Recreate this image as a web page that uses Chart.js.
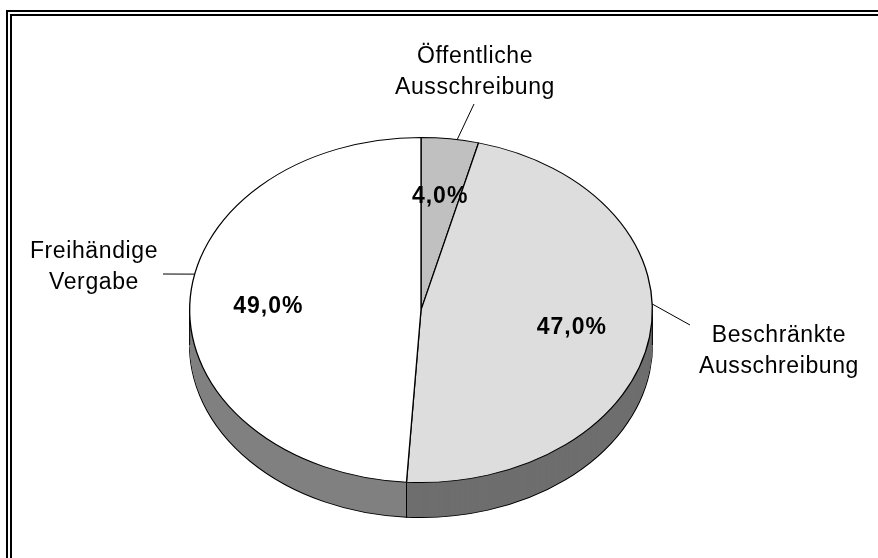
<!DOCTYPE html>
<html>
<head>
<meta charset="utf-8">
<script src="https://cdn.jsdelivr.net/npm/chart.js@4.4.0/dist/chart.umd.min.js"></script>
<style>
html, body { margin: 0; padding: 0; background: #fff; }
#vergabe-chart { display: block; }
</style>
</head>
<body>
<canvas id="vergabe-chart" width="878" height="558"></canvas>
<script>
// Daten
var kategorien = [['Öffentliche', 'Ausschreibung'], ['Beschränkte', 'Ausschreibung'], ['Freihändige', 'Vergabe']];
var anteile = [4, 47, 49];
var farben = ['#c0c0c0', '#dddddd', '#ffffff'];
var farbenSeite = ['#606060', '#6e6e6e', '#808080'];

// Layout der 3D-Torte
var neigung = 173 / 232;
var tiefe = 35;
var schrift = '23px "Liberation Sans", Arial, sans-serif';
var schriftFett = 'bold 23px "Liberation Sans", Arial, sans-serif';
// Beschriftungen: Textmitte, erste Grundlinie, Anfang der Linie, Winkel am Rand (Grad ab oben)
var beschriftung = [
    { x: 475, y: 63, linie: [474, 104], winkel: 9 },
    { x: 779, y: 342, linie: [690, 325], winkel: 88 },
    { x: 94, y: 258, linie: [163, 274], winkel: 282 }
];

document.addEventListener("DOMContentLoaded", function() {
    drawVergabeChart();
});

function kippen(ctx, arc, dy) {
    ctx.translate(0, dy);
    ctx.translate(arc.x, arc.y);
    ctx.scale(1, neigung);
    ctx.translate(-arc.x, -arc.y);
}

function zeichneStueck(ctx, arc, dy, optionen) {
    var alt = arc.options;
    arc.options = Object.assign({}, alt, optionen);
    ctx.save();
    kippen(ctx, arc, dy);
    arc.draw(ctx);
    ctx.restore();
    arc.options = alt;
}

function randPunkt(arc, grad) {
    var a = (grad - 90) * Math.PI / 180;
    return [arc.x + arc.outerRadius * Math.cos(a), arc.y + arc.outerRadius * neigung * Math.sin(a)];
}

var torte3d = {
    id: 'torte3d',
    beforeDraw: function(chart) {
        // doppelter Rahmen oben und links
        var ctx = chart.ctx;
        ctx.save();
        ctx.strokeStyle = '#000';
        ctx.lineWidth = 2;
        ctx.beginPath();
        ctx.moveTo(878, 11); ctx.lineTo(7, 11); ctx.lineTo(7, 558);
        ctx.moveTo(878, 15); ctx.lineTo(11, 15); ctx.lineTo(11, 558);
        ctx.stroke();
        ctx.restore();
    },
    beforeDatasetsDraw: function(chart) {
        var ctx = chart.ctx;
        var arcs = chart.getDatasetMeta(0).data;
        // Seitenwand
        arcs.forEach(function(arc, i) {
            zeichneStueck(ctx, arc, tiefe, { backgroundColor: farbenSeite[i], borderColor: '#000', borderWidth: 1.3 });
        });
        for (var dy = tiefe - 1; dy > 0; dy--) {
            arcs.forEach(function(arc, i) {
                zeichneStueck(ctx, arc, dy, { backgroundColor: farbenSeite[i], borderWidth: 0 });
            });
        }
        // senkrechte Kanten
        var a0 = arcs[0];
        ctx.save();
        ctx.strokeStyle = '#000';
        ctx.lineWidth = 1;
        ctx.beginPath();
        ctx.moveTo(a0.x - a0.outerRadius, a0.y);
        ctx.lineTo(a0.x - a0.outerRadius, a0.y + tiefe);
        ctx.moveTo(a0.x + a0.outerRadius, a0.y);
        ctx.lineTo(a0.x + a0.outerRadius, a0.y + tiefe);
        arcs.forEach(function(arc) {
            var a = arc.startAngle;
            if (Math.sin(a) > 0) {
                var x = Math.round(arc.x + arc.outerRadius * Math.cos(a)) + 0.5;
                var y = arc.y + arc.outerRadius * neigung * Math.sin(a);
                ctx.moveTo(x, y);
                ctx.lineTo(x, y + tiefe);
            }
        });
        ctx.stroke();
        ctx.restore();
        // Oberseite gekippt zeichnen
        ctx.save();
        kippen(ctx, a0, 0);
    },
    afterDatasetsDraw: function(chart) {
        var ctx = chart.ctx;
        ctx.restore();
        var arcs = chart.getDatasetMeta(0).data;
        var summe = anteile.reduce(function(s, v) { return s + v; }, 0);
        ctx.save();
        ctx.fillStyle = '#000';
        ctx.strokeStyle = '#000';
        ctx.lineWidth = 1;
        ctx.textAlign = 'center';
        arcs.forEach(function(arc, i) {
            // Prozentwerte
            var mitte = (arc.startAngle + arc.endAngle) / 2;
            var px = arc.x + arc.outerRadius * 0.66 * Math.cos(mitte);
            var py = arc.y + arc.outerRadius * 0.66 * neigung * Math.sin(mitte);
            ctx.font = schriftFett;
            ctx.letterSpacing = '1px';
            ctx.textBaseline = 'middle';
            ctx.fillText((anteile[i] / summe * 100).toFixed(1).replace('.', ',') + '%', px, py);
            // Kategorien
            var b = beschriftung[i];
            ctx.font = schrift;
            ctx.letterSpacing = '0.6px';
            ctx.textBaseline = 'alphabetic';
            kategorien[i].forEach(function(zeile, j) {
                ctx.fillText(zeile, b.x, b.y + j * 31);
            });
            var p = randPunkt(arc, b.winkel);
            ctx.beginPath();
            ctx.moveTo(b.linie[0], b.linie[1]);
            ctx.lineTo(p[0], p[1]);
            ctx.stroke();
        });
        ctx.restore();
    }
};

function drawVergabeChart() {
    var ctx = document.getElementById('vergabe-chart').getContext('2d');
    var chart = new Chart(ctx, {
        type: 'pie',
        data: {
            labels: kategorien,
            datasets: [{
                data: anteile,
                backgroundColor: farben,
                borderColor: '#000',
                borderWidth: 1.3
            }]
        },
        options: {
            responsive: false,
            animation: false,
            layout: { padding: { left: 189, right: 225, top: 78, bottom: 16 } },
            plugins: {
                legend: { display: false },
                tooltip: { enabled: false }
            }
        },
        plugins: [torte3d]
    });
}
</script>
</body>
</html>
